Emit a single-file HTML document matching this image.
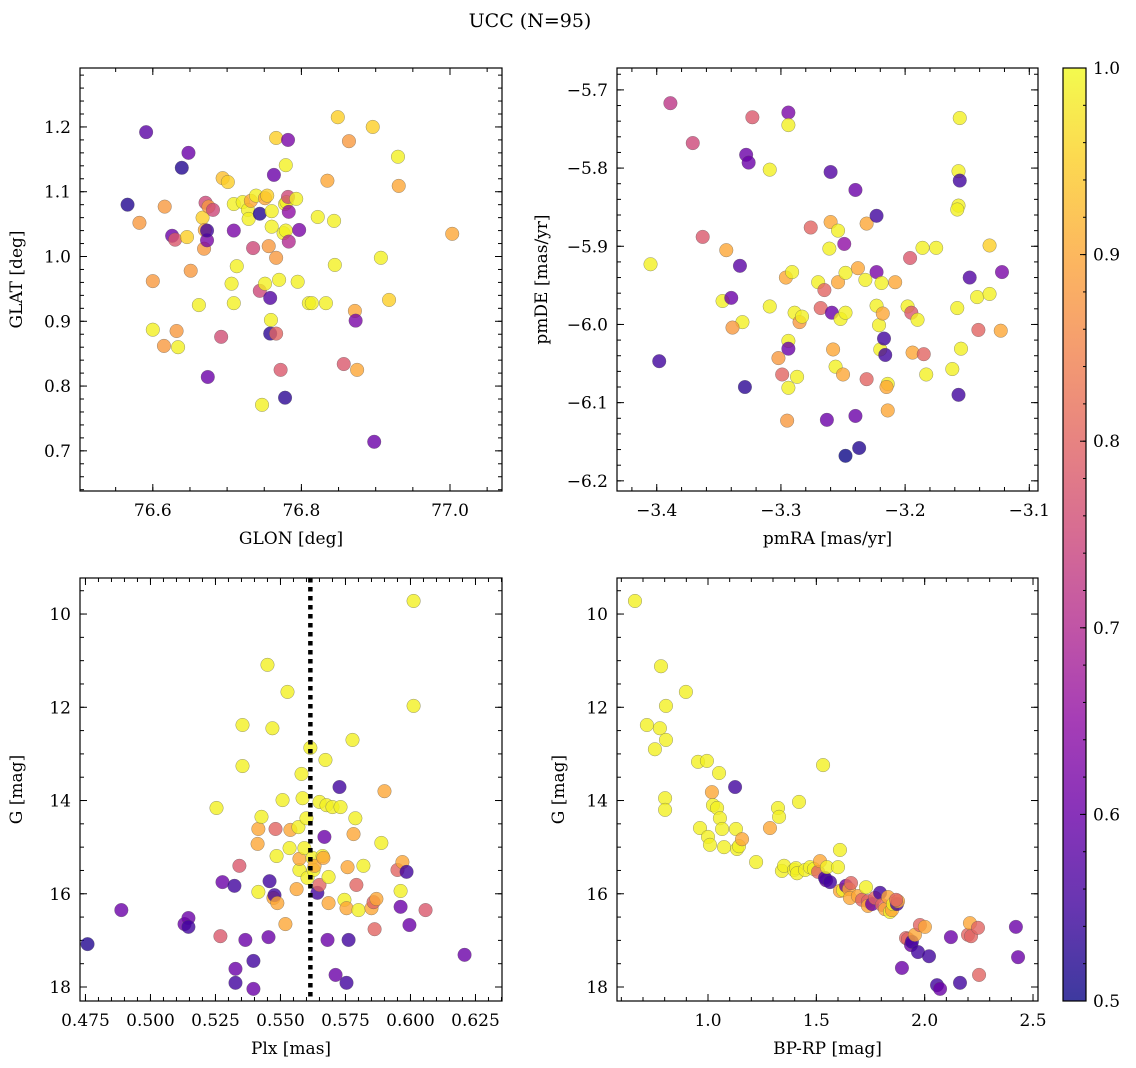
<!DOCTYPE html>
<html><head><meta charset="utf-8">
<style>
html,body{margin:0;padding:0;background:#fff;}
svg{display:block;font-family:"DejaVu Serif","Liberation Serif",serif;}
</style></head>
<body>
<svg id="fig" width="1136" height="1068" viewBox="0 0 1136 1068" xmlns="http://www.w3.org/2000/svg">
<defs>
<linearGradient id="plasmaGrad" x1="0" y1="1" x2="0" y2="0">
<stop offset="0" stop-color="#0d0887" stop-opacity="0.8"/>
<stop offset="0.1" stop-color="#41049d" stop-opacity="0.8"/>
<stop offset="0.2" stop-color="#6a00a8" stop-opacity="0.8"/>
<stop offset="0.3" stop-color="#8f0da4" stop-opacity="0.8"/>
<stop offset="0.4" stop-color="#b12a90" stop-opacity="0.8"/>
<stop offset="0.5" stop-color="#cc4778" stop-opacity="0.8"/>
<stop offset="0.6" stop-color="#e16462" stop-opacity="0.8"/>
<stop offset="0.7" stop-color="#f2844b" stop-opacity="0.8"/>
<stop offset="0.8" stop-color="#fca636" stop-opacity="0.8"/>
<stop offset="0.9" stop-color="#fcce25" stop-opacity="0.8"/>
<stop offset="1" stop-color="#f0f921" stop-opacity="0.8"/>
</linearGradient>
</defs>
<text x="530" y="27" font-size="19" text-anchor="middle">UCC (N=95)</text>
</svg>
<script>
// ---- Panel 1: GLON vs GLAT ----
const glon = [76.566,76.591,76.582,76.600,76.626,76.616,76.600,76.630,76.639,76.648,76.632,76.634,76.615,76.651,76.646,76.662,76.667,76.670,76.669,76.671,76.675,76.681,76.673,76.673,76.674,76.692,76.694,76.701,76.709,76.709,76.709,76.713,76.706,76.721,76.728,76.732,76.729,76.739,76.735,76.744,76.744,76.747,76.751,76.751,76.754,76.756,76.759,76.760,76.760,76.758,76.758,76.763,76.766,76.766,76.766,76.770,76.772,76.778,76.776,76.779,76.779,76.780,76.782,76.782,76.783,76.783,76.778,76.793,76.795,76.797,76.810,76.814,76.822,76.833,76.835,76.844,76.845,76.849,76.857,76.864,76.872,76.873,76.875,76.896,76.898,76.907,76.918,76.930,76.931,77.003];
const glat = [1.080,1.192,1.052,0.887,1.032,1.077,0.962,1.026,1.137,1.160,0.885,0.860,0.862,0.978,1.030,0.925,1.060,1.041,1.012,1.083,1.077,1.072,1.025,1.040,0.814,0.876,1.121,1.115,1.081,1.040,0.928,0.985,0.958,1.084,1.072,1.086,1.058,1.094,1.013,1.066,0.947,0.771,0.958,1.090,1.094,1.016,0.902,1.070,1.046,0.936,0.881,1.126,1.183,0.998,0.881,0.964,0.825,1.081,1.036,1.141,1.040,1.084,1.092,1.180,1.069,1.023,0.782,1.089,0.961,1.041,0.928,0.928,1.061,0.928,1.117,1.055,0.987,1.215,0.834,1.178,0.916,0.901,0.825,1.200,0.714,0.998,0.933,1.154,1.109,1.035];
const prob1 = [.52,.58,.88,.99,.6,.88,.88,.78,.52,.6,.88,.99,.88,.88,.95,.99,.95,.9,.88,.75,.88,.75,.62,.55,.6,.76,.93,.95,.99,.62,.99,.99,.99,.99,.99,.9,.99,.99,.75,.52,.75,.99,.99,.9,.95,.88,.99,.99,.99,.57,.53,.6,.95,.88,.8,.99,.78,.99,.99,.99,.99,.99,.75,.62,.65,.7,.53,.99,.99,.62,.99,.99,.99,.99,.9,.99,.99,.95,.78,.88,.9,.62,.9,.95,.6,.99,.95,.99,.9,.9];

// ---- Panel 2: pmRA vs pmDE ----
const pmra = [-3.389,-3.371,-3.405,-3.398,-3.363,-3.344,-3.347,-3.340,-3.333,-3.329,-3.331,-3.339,-3.323,-3.328,-3.326,-3.309,-3.309,-3.302,-3.299,-3.296,-3.295,-3.294,-3.294,-3.294,-3.294,-3.294,-3.291,-3.289,-3.287,-3.285,-3.283,-3.276,-3.270,-3.268,-3.265,-3.261,-3.263,-3.260,-3.260,-3.259,-3.256,-3.258,-3.254,-3.254,-3.252,-3.250,-3.249,-3.248,-3.248,-3.248,-3.240,-3.240,-3.238,-3.237,-3.232,-3.231,-3.231,-3.223,-3.223,-3.223,-3.221,-3.220,-3.219,-3.218,-3.217,-3.216,-3.214,-3.215,-3.214,-3.208,-3.198,-3.196,-3.195,-3.194,-3.190,-3.186,-3.185,-3.183,-3.175,-3.162,-3.158,-3.157,-3.157,-3.158,-3.157,-3.156,-3.156,-3.155,-3.148,-3.142,-3.141,-3.132,-3.132,-3.122,-3.123];
const pmde = [-5.717,-5.768,-5.923,-6.047,-5.888,-5.905,-5.970,-5.966,-5.925,-6.080,-5.997,-6.004,-5.735,-5.783,-5.793,-5.802,-5.977,-6.043,-6.064,-5.940,-6.123,-5.729,-5.745,-6.021,-6.031,-6.081,-5.933,-5.985,-6.067,-5.997,-5.990,-5.876,-5.946,-5.979,-5.956,-5.903,-6.122,-5.805,-5.869,-5.985,-6.054,-6.032,-5.946,-5.880,-5.993,-6.064,-5.897,-5.985,-5.934,-6.168,-5.828,-6.117,-5.928,-6.158,-5.943,-6.070,-5.871,-5.861,-5.933,-5.976,-6.001,-6.032,-5.947,-5.986,-6.018,-6.039,-6.076,-6.080,-6.110,-5.946,-5.977,-5.915,-5.985,-6.036,-5.994,-5.902,-6.038,-6.064,-5.902,-6.057,-5.979,-6.090,-5.848,-5.853,-5.804,-5.816,-5.736,-6.031,-5.940,-5.965,-6.007,-5.961,-5.899,-5.933,-6.008];
const prob2 = [.72,.75,.99,.55,.78,.9,.99,.6,.58,.53,.99,.88,.78,.6,.6,.99,.99,.88,.8,.9,.88,.62,.99,.99,.6,.99,.99,.99,.99,.88,.99,.8,.99,.8,.8,.99,.6,.57,.9,.6,.99,.9,.9,.99,.99,.9,.65,.99,.99,.5,.6,.6,.9,.52,.99,.8,.9,.55,.62,.99,.99,.99,.99,.9,.55,.55,.99,.9,.9,.9,.99,.78,.78,.9,.99,.99,.8,.99,.99,.99,.99,.55,.99,.99,.99,.55,.99,.99,.57,.99,.8,.99,.95,.62,.9];

// ---- Panel 3: Plx vs G ----
const plx = [.4758,.4888,.5131,.5146,.5146,.5254,.5269,.5277,.5327,.5323,.5327,.5342,.5354,.5354,.5365,.5396,.5396,.5412,.5415,.5415,.5427,.5450,.5454,.5458,.5469,.5473,.5481,.5477,.5485,.5488,.5508,.5519,.5527,.5535,.5538,.5562,.5569,.5573,.5573,.5581,.5585,.5592,.5600,.5604,.5615,.5623,.5627,.5631,.5642,.5650,.5650,.5662,.5665,.5669,.5673,.5677,.5681,.5685,.5685,.5700,.5712,.5727,.5731,.5746,.5754,.5762,.5754,.5758,.5777,.5781,.5788,.5792,.5800,.5819,.5850,.5858,.5862,.5869,.5888,.5900,.5950,.5962,.5962,.5969,.5985,.5996,.6012,.6012,.6058,.6208];
const gmag3 = [17.08,16.35,16.65,16.52,16.71,14.16,16.91,15.75,17.61,15.83,17.91,15.40,12.38,13.26,16.99,17.44,18.04,14.93,14.61,15.96,14.35,11.09,16.93,15.73,12.45,16.09,14.61,16.03,15.19,16.20,13.99,16.65,11.67,15.02,14.63,15.90,14.57,15.49,15.25,13.43,13.95,15.02,14.38,15.66,12.87,15.23,15.49,15.40,15.98,15.81,14.03,15.19,15.23,14.78,13.13,14.10,16.99,15.64,16.20,14.14,17.74,13.71,14.14,16.13,16.31,16.99,17.91,15.43,12.70,14.72,14.38,15.81,16.35,15.40,16.31,16.18,16.76,16.11,14.91,13.80,15.49,15.94,16.28,15.32,15.53,16.67,9.72,11.97,16.35,17.31];
const prob3 = [.52,.6,.6,.6,.55,.99,.78,.6,.6,.55,.55,.78,.99,.99,.6,.55,.6,.9,.9,.99,.99,.99,.6,.55,.99,.9,.8,.55,.99,.9,.99,.9,.99,.99,.9,.9,.99,.99,.9,.99,.99,.99,.99,.99,.99,.99,.99,.9,.55,.8,.99,.99,.9,.6,.99,.99,.6,.99,.9,.99,.6,.55,.99,.99,.9,.55,.55,.9,.99,.9,.99,.8,.99,.99,.9,.8,.8,.9,.99,.9,.8,.99,.6,.9,.55,.6,.99,.99,.78,.6];
const plxRef = [0.5615];

// ---- Panel 4: BP-RP vs G ----
const bprp = [0.663,0.718,0.755,0.778,0.783,0.806,0.806,0.802,0.802,0.898,0.954,0.963,0.995,1.000,1.009,1.018,1.023,1.042,1.051,1.055,1.065,1.074,1.125,1.129,1.134,1.143,1.157,1.222,1.286,1.323,1.328,1.341,1.351,1.397,1.406,1.420,1.411,1.448,1.471,1.489,1.508,1.517,1.545,1.540,1.549,1.531,1.563,1.600,1.609,1.609,1.623,1.637,1.651,1.655,1.660,1.692,1.711,1.729,1.738,1.738,1.757,1.771,1.794,1.803,1.817,1.831,1.840,1.849,1.854,1.872,1.877,1.868,1.895,1.914,1.923,1.937,1.941,1.955,1.969,1.978,2.001,2.020,2.057,2.071,2.121,2.163,2.200,2.209,2.214,2.246,2.251,2.421,2.431];
const gmag4 = [9.72,12.38,12.90,12.45,11.12,11.97,12.70,13.95,14.20,11.67,13.17,14.59,13.15,14.78,14.95,13.82,14.10,14.16,13.41,14.38,14.61,15.00,13.71,14.61,15.04,14.98,14.83,15.32,14.59,14.16,14.35,15.51,15.40,15.49,15.45,14.03,15.56,15.49,15.43,15.47,15.53,15.30,15.71,15.66,15.43,13.24,15.75,15.43,15.06,15.94,15.92,15.83,15.90,16.09,15.77,16.05,16.13,15.86,16.16,16.26,16.22,16.09,15.98,16.24,16.33,16.07,16.39,16.35,16.22,16.22,16.16,16.13,17.59,16.95,16.97,17.10,17.03,16.88,17.25,16.67,16.71,17.34,17.96,18.04,16.93,17.91,16.88,16.63,16.91,16.73,17.74,16.71,17.36];
const prob4 = [.99,.99,.99,.99,.99,.99,.99,.99,.99,.99,.99,.99,.99,.99,.99,.9,.99,.99,.99,.99,.99,.99,.55,.99,.99,.99,.9,.99,.9,.99,.99,.99,.99,.99,.99,.99,.99,.99,.99,.99,.8,.9,.6,.55,.99,.99,.55,.99,.99,.9,.99,.6,.9,.9,.8,.9,.8,.99,.8,.9,.6,.8,.55,.8,.9,.9,.99,.9,.99,.55,.9,.8,.6,.8,.8,.6,.55,.9,.55,.8,.9,.55,.55,.6,.6,.55,.8,.9,.8,.8,.8,.6,.6];

// ---- Tick labels ----
const ticks1x = [76.6,76.8,77.0];
const ticks1y = [0.7,0.8,0.9,1.0,1.1,1.2];
const ticks2x = [-3.4,-3.3,-3.2,-3.1];
const ticks2y = [-5.7,-5.8,-5.9,-6.0,-6.1,-6.2];
const ticks3x = [0.475,0.500,0.525,0.550,0.575,0.600,0.625];
const ticksGy = [10,12,14,16,18];
const ticks4x = [1.0,1.5,2.0,2.5];
const ticksCb = [0.5,0.6,0.7,0.8,0.9,1.0];

const NS = "http://www.w3.org/2000/svg";
const svg = document.getElementById('fig');
const stops = ["#0d0887","#41049d","#6a00a8","#8f0da4","#b12a90","#cc4778","#e16462","#f2844b","#fca636","#fcce25","#f0f921"];
function hex(h){return [parseInt(h.substr(1,2),16),parseInt(h.substr(3,2),16),parseInt(h.substr(5,2),16)];}
function plasma(t){t=Math.max(0,Math.min(1,t));const f=t*10;const i=Math.min(9,Math.floor(f));const r=f-i;const a=hex(stops[i]),b=hex(stops[i+1]);return "rgb("+a.map((v,k)=>Math.round(v+(b[k]-v)*r)).join(",")+")";}
function mk(tag,attrs,parent){const e=document.createElementNS(NS,tag);for(const k in attrs)e.setAttribute(k,attrs[k]);(parent||svg).appendChild(e);return e;}
function fmt(v,d){return v.toFixed(d).replace('-','\u2212');}

function panel(cfg){
  const g=mk('g',{});
  
  
  const L=cfg.L,T=cfg.T,W=cfg.W,H=cfg.H;
  const sx=v=>L+(v-cfg.x0)/(cfg.x1-cfg.x0)*W;
  const sy=cfg.invert?(v=>T+(v-cfg.y0)/(cfg.y1-cfg.y0)*H):(v=>T+H-(v-cfg.y0)/(cfg.y1-cfg.y0)*H);
  const tg=mk('g',{stroke:'#000','stroke-width':1},g);
  function xt(v,len){const x=sx(v);if(x<L-0.1||x>L+W+0.1)return;mk('line',{x1:x,y1:T+H,x2:x,y2:T+H-len},tg);mk('line',{x1:x,y1:T,x2:x,y2:T+len},tg);}
  function yt(v,len){const y=sy(v);if(y<T-0.1||y>T+H+0.1)return;mk('line',{x1:L,y1:y,x2:L+len,y2:y},tg);mk('line',{x1:L+W,y1:y,x2:L+W-len,y2:y},tg);}
  for(let k=Math.ceil(Math.min(cfg.x0,cfg.x1)/cfg.xm);k*cfg.xm<=Math.max(cfg.x0,cfg.x1);k++)xt(k*cfg.xm,4);
  for(let k=Math.ceil(Math.min(cfg.y0,cfg.y1)/cfg.ym);k*cfg.ym<=Math.max(cfg.y0,cfg.y1);k++)yt(k*cfg.ym,4);
  cfg.xt.forEach(v=>{xt(v,7);const t=mk('text',{x:sx(v),y:T+H+25,'font-size':17,'text-anchor':'middle'},g);t.textContent=fmt(v,cfg.xd);});
  cfg.yt.forEach(v=>{yt(v,7);const t=mk('text',{x:L-9,y:sy(v)+6,'font-size':17,'text-anchor':'end'},g);t.textContent=fmt(v,cfg.yd);});
  const pg=mk('g',{},g);
  
  
  cfg.xs.forEach((xv,i)=>{
    const c=mk('circle',{cx:sx(xv),cy:sy(cfg.ys[i]),r:6.8,fill:plasma((cfg.p[i]-0.5)/0.5),'fill-opacity':0.8,stroke:'#555','stroke-opacity':0.6,'stroke-width':0.5},pg);
    
    
  });
  if(cfg.vline){cfg.vline.forEach(v=>{const l=mk('line',{x1:sx(v),x2:sx(v),y1:T,y2:T+H,stroke:'#000','stroke-width':4.5,'stroke-dasharray':'4.5,4.5'},g);});}
  const fr=mk('rect',{x:L,y:T,width:W,height:H,fill:'none',stroke:'#000','stroke-width':1.2},g);
  
  
  const xl=mk('text',{x:L+W/2,y:T+H+53,'font-size':17,'text-anchor':'middle'},g);xl.textContent=cfg.xlabel;
  
  
  const yl=mk('text',{x:cfg.ylx,y:T+H/2,'font-size':17,'text-anchor':'middle',transform:'rotate(-90 '+cfg.ylx+' '+(T+H/2)+')'},g);yl.textContent=cfg.ylabel;
  
  
}
panel({name:'glon-glat-panel',L:80,T:68,W:422,H:423,x0:76.502,x1:77.070,y0:0.638,y1:1.291,xm:0.05,ym:0.02,xt:ticks1x,yt:ticks1y,xd:1,yd:1,xs:glon,ys:glat,p:prob1,xlabel:'GLON [deg]',ylabel:'GLAT [deg]',ylx:22});
panel({name:'pm-panel',L:617,T:68,W:421,H:423,x0:-3.432,x1:-3.093,y0:-6.213,y1:-5.672,xm:0.02,ym:0.02,xt:ticks2x,yt:ticks2y,xd:1,yd:1,xs:pmra,ys:pmde,p:prob2,xlabel:'pmRA [mas/yr]',ylabel:'pmDE [mas/yr]',ylx:547});
panel({name:'plx-g-panel',L:80,T:578,W:422,H:423,x0:0.4729,x1:0.6352,y0:9.227,y1:18.30,invert:true,xm:0.005,ym:0.5,xt:ticks3x,yt:ticksGy,xd:3,yd:0,xs:plx,ys:gmag3,p:prob3,vline:plxRef,xlabel:'Plx [mas]',ylabel:'G [mag]',ylx:22});
panel({name:'cmd-panel',L:617,T:578,W:421,H:423,x0:0.580,x1:2.523,y0:9.227,y1:18.30,invert:true,xm:0.1,ym:0.5,xt:ticks4x,yt:ticksGy,xd:1,yd:0,xs:bprp,ys:gmag4,p:prob4,xlabel:'BP-RP [mag]',ylabel:'G [mag]',ylx:564});

const cb=mk('g',{});


const cL=1063,cT=68,cW=23,cH=933;
mk('rect',{x:cL,y:cT,width:cW,height:cH,fill:'url(#plasmaGrad)'},cb);
const cy=v=>cT+cH-(v-0.5)/0.5*cH;
for(let k=25;k<=50;k++){const y=cy(k*0.02);mk('line',{x1:cL+cW,x2:cL+cW-3,y1:y,y2:y,stroke:'#000','stroke-width':1},cb);}
ticksCb.forEach(v=>{const y=cy(v);mk('line',{x1:cL+cW,x2:cL+cW-6,y1:y,y2:y,stroke:'#000','stroke-width':1},cb);
  const t=mk('text',{x:cL+cW+7,y:y+6,'font-size':17},cb);t.textContent=v.toFixed(1);
  
  });
mk('rect',{x:cL,y:cT,width:cW,height:cH,fill:'none',stroke:'#000','stroke-width':1.2},cb);
</script>
</body></html>
